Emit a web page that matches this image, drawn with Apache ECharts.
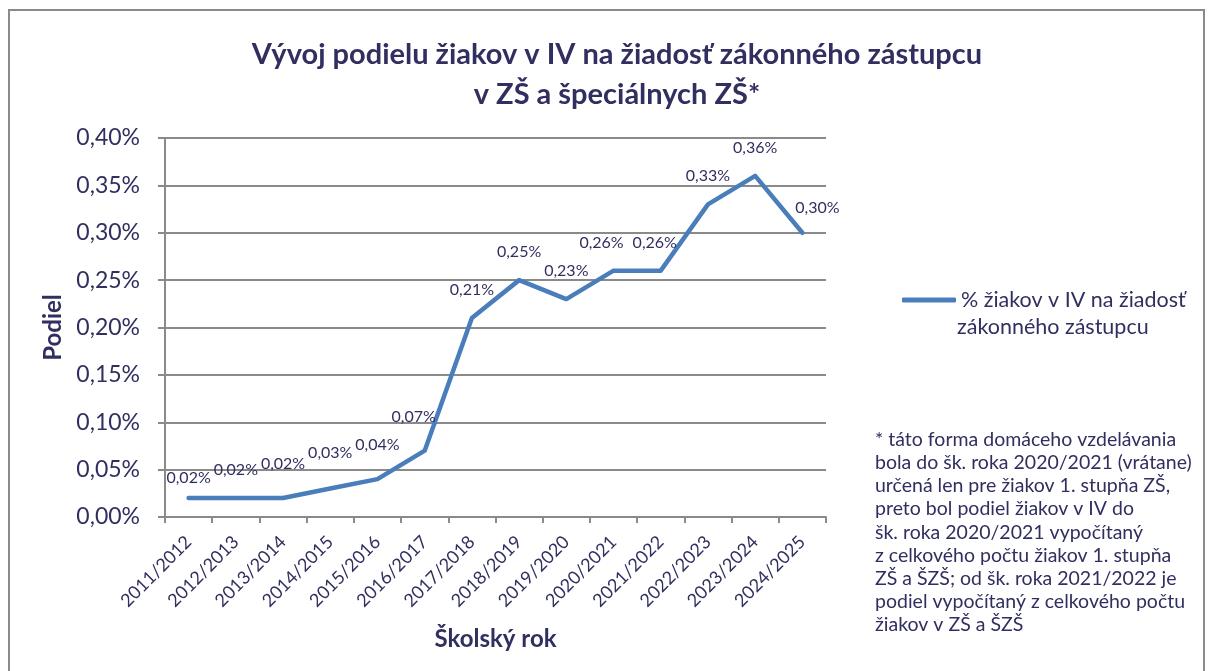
<!DOCTYPE html>
<html>
<head>
<meta charset="utf-8">
<script src="https://cdn.jsdelivr.net/npm/echarts@6/dist/echarts.min.js"></script>
<style>
  html, body { margin: 0; padding: 0; background: #fff; }
  #chart { width: 1208px; height: 671px; }
</style>
</head>
<body>
<div id="chart"></div>
<script>
// školské roky
const years = ['2011/2012', '2012/2013', '2013/2014', '2014/2015', '2015/2016', '2016/2017', '2017/2018',
  '2018/2019', '2019/2020', '2020/2021', '2021/2022', '2022/2023', '2023/2024', '2024/2025']
// podiel žiakov v IV (%)
const podiel = [0.02, 0.02, 0.02, 0.03, 0.04, 0.07, 0.21, 0.25, 0.23, 0.26, 0.26, 0.33, 0.36, 0.30]
const seriesName = '% žiakov v IV na žiadosť zákonného zástupcu'
const footnote = [
  '* táto forma domáceho vzdelávania',
  'bola do šk. roka 2020/2021 (vrátane)',
  'určená len pre žiakov 1. stupňa ZŠ,',
  'preto bol podiel žiakov v IV do',
  'šk. roka 2020/2021 vypočítaný',
  'z celkového počtu žiakov 1. stupňa',
  'ZŠ a ŠZŠ; od šk. roka 2021/2022 je',
  'podiel vypočítaný z celkového počtu',
  'žiakov v ZŠ a ŠZŠ'
]

const navy = '#302f60'
const font = 'Lato, "Open Sans", sans-serif'
const fmt = v => v.toFixed(2).replace('.', ',') + '%'

// posuny popiskov (ako v Exceli)
const labelOffsets = { 0: [0, 8], 2: [0, -6], 3: [0, -8], 4: [0, -6], 5: [-11, -6], 9: [-12, 0], 10: [-6, 0], 13: [15, 3] }

const myChart = echarts.init(document.getElementById('chart'))
const option = {
  animation: false,
  textStyle: { fontFamily: font, color: navy },
  title: {
    text: 'Vývoj podielu žiakov v IV na žiadosť zákonného zástupcu\nv ZŠ a špeciálnych ZŠ*',
    left: 612,
    top: 30,
    textAlign: 'center',
    textStyle: { fontFamily: font, fontSize: 29, fontWeight: 'bold', color: navy, lineHeight: 40 }
  },
  legend: {
    left: 897,
    top: 284,
    itemWidth: 54,
    itemHeight: 5,
    itemGap: 6,
    icon: 'roundRect',
    data: [seriesName],
    formatter: () => '% žiakov v IV na žiadosť',
    textStyle: { fontFamily: font, fontSize: 21.5, color: navy }
  },
  grid: { left: 165, right: 382, top: 138, bottom: 154 },
  xAxis: {
    type: 'category',
    data: years,
    boundaryGap: true,
    name: 'Školský rok',
    nameLocation: 'middle',
    nameGap: 110,
    nameTextStyle: { fontFamily: font, fontSize: 24, fontWeight: 'bold', color: navy },
    axisLine: { lineStyle: { color: '#8a8a8a', width: 2 } },
    axisTick: { show: true, length: 6, lineStyle: { color: '#8a8a8a', width: 2 } },
    axisLabel: { rotate: 45, margin: 22, fontSize: 18, color: navy, fontFamily: font, interval: 0 }
  },
  yAxis: {
    type: 'value',
    min: 0,
    max: 0.4,
    interval: 0.05,
    name: 'Podiel',
    nameLocation: 'middle',
    nameGap: 100,
    nameTextStyle: { fontFamily: font, fontSize: 24, fontWeight: 'bold', color: navy },
    axisLine: { show: true, lineStyle: { color: '#8a8a8a', width: 2 } },
    axisTick: { show: true, length: 7, lineStyle: { color: '#8a8a8a', width: 2 } },
    splitLine: { lineStyle: { color: '#8a8a8a', width: 2 } },
    axisLabel: { fontSize: 23, color: navy, fontFamily: font, margin: 25, formatter: fmt }
  },
  series: [{
    name: seriesName,
    type: 'line',
    data: podiel.map((v, i) => labelOffsets[i] ? { value: v, label: { offset: labelOffsets[i] } } : v),
    showSymbol: true,
    symbol: 'circle',
    symbolSize: 2,
    color: '#4a7ebb',
    itemStyle: { color: '#4a7ebb' },
    lineStyle: { width: 4.5, color: '#4a7ebb', join: 'round', cap: 'round' },
    label: {
      show: true,
      position: 'top',
      distance: 19,
      fontSize: 16,
      color: navy,
      fontFamily: font,
      formatter: p => fmt(p.value)
    }
  }],
  graphic: [
    {
      type: 'rect',
      shape: { x: 9, y: 10, width: 1195, height: 700 },
      style: { fill: 'none', stroke: '#8a8a8a', lineWidth: 2 },
      silent: true
    },
    {
      type: 'text',
      left: 957,
      top: 316,
      style: { text: 'zákonného zástupcu', fontFamily: font, fontSize: 21.5, fill: navy }
    },
    {
      type: 'text',
      left: 875,
      top: 428,
      style: {
        text: footnote.join('\n'),
        fontFamily: font,
        fontSize: 19.5,
        lineHeight: 23.2,
        fill: navy
      }
    }
  ]
}
myChart.setOption(option)
</script>
</body>
</html>
